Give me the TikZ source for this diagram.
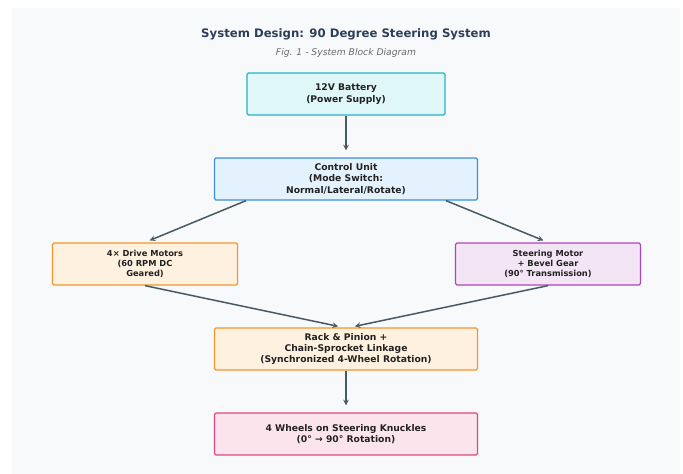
\documentclass[tikz,border=0pt]{standalone}
\usepackage{fontspec}
\setmainfont{DejaVu Sans}
\usepackage{xcolor}

\definecolor{panelbg}{HTML}{F8F9FA}
\definecolor{titleblue}{HTML}{2C3E5A}
\definecolor{subgray}{HTML}{6B6B6B}
\definecolor{boxtext}{HTML}{222222}
\definecolor{linkgray}{HTML}{455A64}
\definecolor{tealfill}{HTML}{E0F7FA}
\definecolor{tealline}{HTML}{26B3C4}
\definecolor{bluefill}{HTML}{E3F2FD}
\definecolor{blueline}{HTML}{3C8EDB}
\definecolor{orangefill}{HTML}{FFF1DF}
\definecolor{orangeline}{HTML}{F3962C}
\definecolor{purplefill}{HTML}{F3E5F5}
\definecolor{purpleline}{HTML}{AB47BC}
\definecolor{pinkfill}{HTML}{FCE4EC}
\definecolor{pinkline}{HTML}{E2467D}

\begin{document}
\begin{tikzpicture}[x=1pt,y=-1pt,>=stealth,node distance=85pt,
    block/.style={rectangle,draw,rounded corners=1.5pt,line width=1.3pt,minimum height=42pt,align=center,text=boxtext,font=\bfseries\fontsize{9.2}{11.3}\selectfont},
    small block/.style={block,minimum width=185pt,font=\bfseries\fontsize{8.3}{10.3}\selectfont},
    link/.style={->,linkgray,line width=1.5pt}]

    \useasboundingbox (0,0) rectangle (683,474);
    \fill[panelbg] (12,8) rectangle (680,474);

    \node[font=\bfseries\fontsize{11.7}{14}\selectfont, text=titleblue] (title) at (346,34) {System Design: 90 Degree Steering System};
    \node[font=\itshape\fontsize{9.2}{11}\selectfont, text=subgray] (sub) at (346,53) {Fig. 1 - System Block Diagram};

    \node[block, fill=tealfill, draw=tealline, minimum width=198pt] (1) at (346,94) {12V Battery\\(Power Supply)};
    \node[block, fill=bluefill, draw=blueline, minimum width=263pt] (2) [below of=1] {Control Unit\\(Mode Switch:\\Normal/Lateral/Rotate)};

    \node[small block, fill=orangefill, draw=orangeline] (3) [below of=2, xshift=-201pt] {4× Drive Motors\\(60 RPM DC\\Geared)};
    \node[small block, fill=purplefill, draw=purpleline] (4) [below of=2, xshift=202pt] {Steering Motor\\+ Bevel Gear\\(90° Transmission)};

    \node[block, fill=orangefill, draw=orangeline, minimum width=263pt] (5) [below of=3, xshift=201pt] {Rack \& Pinion +\\Chain-Sprocket Linkage\\(Synchronized 4-Wheel Rotation)};
    \node[block, fill=pinkfill, draw=pinkline, minimum width=263pt] (6) [below of=5] {4 Wheels on Steering Knuckles\\(0° → 90° Rotation)};

    \path[link]
        (1) edge[shorten >=7pt] (2)
        ([xshift=-100pt]2.south) edge[shorten >=5pt] (3.north)
        ([xshift=100pt]2.south) edge[shorten >=5pt] (4.north)

        (3.south) edge[shorten >=5pt] ([xshift=-3pt]5.north)
        (4.south) edge[shorten >=5pt] ([xshift=4pt]5.north)
        (5) edge[shorten >=7pt] (6)
        ;
\end{tikzpicture}
\end{document}
